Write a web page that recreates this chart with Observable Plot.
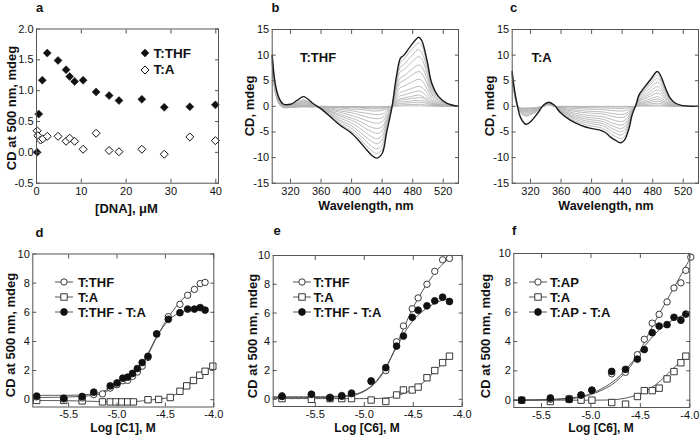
<!DOCTYPE html>
<html><head><meta charset="utf-8">
<script src="https://cdn.jsdelivr.net/npm/d3@7"></script>
<script src="https://cdn.jsdelivr.net/npm/@observablehq/plot@0.6"></script>
<style>
body{margin:0;background:#fff;}
#fig{position:relative;width:700px;height:435px;overflow:hidden;font-family:"Liberation Sans",Arial,sans-serif;color:#111;background:#fff;}
.t{position:absolute;white-space:nowrap;line-height:1;}
</style></head><body><div id="fig"></div>
<script>
// ---------- Panel a ----------
const aDNA   = [0.15, 0.5, 1.3, 2.4, 4.8, 6.6, 7.4, 8.5, 10.4, 13.3, 16.2, 18.4, 23.5, 28.5, 34.2, 39.9];
const aTHF   = [0.0, 0.62, 1.17, 1.61, 1.49, 1.34, 1.23, 1.15, 1.17, 0.98, 0.92, 0.84, 0.86, 0.73, 0.74, 0.77];
const aDNA_A = [0.15, 0.3, 0.9, 1.4, 2.4, 4.8, 6.6, 7.4, 8.5, 10.4, 13.3, 16.2, 18.4, 23.5, 28.5, 34.2, 39.9];
const aA     = [0.35, 0.27, 0.2, 0.22, 0.26, 0.26, 0.18, 0.23, 0.18, 0.05, 0.31, 0.03, 0.01, 0.05, -0.03, 0.25, 0.19];

// ---------- Panel b (T:THF spectra) ----------
const bWave  = [296, 300, 305, 310, 320, 329, 337, 350, 360, 372, 385, 398, 409, 418, 426, 433, 440, 446, 453, 459, 464, 468, 477, 488, 492, 499, 505, 514, 525, 540];
const bBlack = [10.0, 4.4, 1.6, 0.5, 0.4, 1.2, 1.9, 0.5, -0.5, -2.0, -3.7, -5.0, -6.6, -8.2, -9.5, -10.1, -9.2, -5.0, 0, 6.1, 9.4, 9.9, 11.7, 13.5, 12.8, 8.8, 4.5, 1.9, 0.6, 0];
const bGrey = [
 [9.7, 4.2, 1.2, 0.3, 0.3, 0.8, 1.3, 0.4, -0.5, -1.8, -3.4, -4.6, -6.0, -7.5, -8.6, -9.2, -8.4, -4.6, 0, 5.6, 8.6, 9.1, 10.8, 12.4, 11.8, 8.1, 4.1, 1.7, 0.6, 0],
 [9.6, 4.0, 1.2, 0.2, 0.2, 0.7, 1.1, 0.3, -0.4, -1.6, -3.0, -4.1, -5.4, -6.7, -7.8, -8.3, -7.5, -4.1, 0, 5.0, 7.7, 8.1, 9.6, 11.1, 10.5, 7.2, 3.7, 1.6, 0.5, 0],
 [9.4, 3.9, 1.1, 0.2, 0.2, 0.6, 1.0, 0.3, -0.4, -1.4, -2.7, -3.6, -4.8, -5.9, -6.8, -7.3, -6.6, -3.6, 0, 4.4, 6.8, 7.1, 8.4, 9.7, 9.2, 6.3, 3.2, 1.4, 0.4, 0],
 [9.3, 3.7, 1.0, 0.1, 0.1, 0.5, 0.8, 0.2, -0.3, -1.2, -2.3, -3.1, -4.1, -5.1, -5.9, -6.3, -5.7, -3.1, 0, 3.7, 5.6, 5.9, 7.0, 8.1, 7.7, 5.3, 2.7, 1.1, 0.4, 0],
 [9.2, 3.6, 0.9, 0.05, 0.05, 0.4, 0.65, 0.15, -0.3, -1.0, -1.9, -2.6, -3.4, -4.3, -4.9, -5.3, -4.8, -2.6, 0, 3.1, 4.7, 5.0, 5.9, 6.8, 6.4, 4.4, 2.3, 1.0, 0.3, 0],
 [9.0, 3.4, 0.8, 0, 0, 0.3, 0.5, 0.1, -0.2, -0.9, -1.6, -2.2, -2.8, -3.5, -4.1, -4.3, -4.0, -2.2, 0, 2.4, 3.7, 3.9, 4.6, 5.3, 5.0, 3.4, 1.8, 0.7, 0.2, 0],
 [8.9, 3.2, 0.7, -0.05, -0.05, 0.2, 0.35, 0.05, -0.2, -0.7, -1.2, -1.7, -2.2, -2.7, -3.1, -3.3, -3.0, -1.7, 0, 1.8, 2.7, 2.9, 3.4, 3.9, 3.7, 2.6, 1.3, 0.6, 0.2, 0],
 [8.8, 3.1, 0.7, -0.1, -0.1, 0.1, 0.2, 0, -0.1, -0.5, -0.9, -1.2, -1.6, -2.0, -2.3, -2.4, -2.2, -1.2, 0, 1.3, 2.1, 2.2, 2.6, 3.0, 2.8, 1.9, 1.0, 0.4, 0.1, 0],
 [8.7, 3.0, 0.6, -0.1, -0.1, 0.06, 0.14, 0, -0.1, -0.3, -0.6, -0.8, -1.1, -1.3, -1.5, -1.6, -1.5, -0.8, 0, 1.0, 1.5, 1.6, 1.9, 2.2, 2.0, 1.4, 0.7, 0.3, 0.1, 0],
 [8.7, 3.0, 0.6, -0.15, -0.15, 0.03, 0.1, -0.05, 0, -0.2, -0.3, -0.5, -0.6, -0.7, -0.9, -0.9, -0.8, -0.5, 0, 0.8, 1.2, 1.3, 1.5, 1.7, 1.7, 1.1, 0.6, 0.25, 0.1, 0],
 [8.6, 2.9, 0.6, -0.15, -0.15, 0, 0.03, -0.05, 0, -0.1, -0.2, -0.25, -0.3, -0.4, -0.5, -0.5, -0.5, -0.25, 0, 0.55, 0.85, 0.9, 1.05, 1.2, 1.15, 0.8, 0.4, 0.2, 0.05, 0],
 [8.6, 2.9, 0.55, -0.2, -0.2, -0.05, 0, -0.1, 0, -0.06, -0.1, -0.15, -0.2, -0.25, -0.3, -0.3, -0.3, -0.15, 0, 0.37, 0.56, 0.6, 0.7, 0.8, 0.77, 0.53, 0.27, 0.1, 0.04, 0],
 [8.5, 2.8, 0.5, -0.2, -0.2, -0.1, -0.05, -0.1, 0, -0.02, -0.04, -0.05, -0.07, -0.08, -0.1, -0.1, -0.1, -0.05, 0, 0.18, 0.28, 0.3, 0.35, 0.4, 0.38, 0.26, 0.14, 0.06, 0.02, 0],
 [8.5, 2.8, 0.5, -0.2, -0.2, -0.15, -0.1, -0.1, -0.05, -0.05, -0.05, -0.05, -0.05, -0.05, -0.05, -0.05, -0.05, -0.03, 0, 0.05, 0.08, 0.1, 0.1, 0.1, 0.1, 0.05, 0.03, 0.02, 0, 0]
];

// ---------- Panel c (T:A spectra) ----------
const cWave  = [296, 298, 303, 307, 314, 320, 329, 337, 344, 351, 359, 372, 386, 399, 410, 418, 425, 431, 438, 443, 449, 453, 458, 462, 468, 477, 486, 490, 497, 503, 510, 519, 540];
const cBlack = [6.8, 4.2, 0.0, -2.2, -3.5, -3.0, -1.4, 0.25, 0.8, 0.25, -1.2, -2.7, -3.7, -4.3, -4.6, -5.1, -6.0, -6.6, -7.1, -6.6, -4.3, -1.7, 0.25, 2.2, 3.5, 5.2, 6.8, 6.1, 3.5, 1.6, 0.6, 0.15, 0];
const cGrey = [
 [6.72, 3.92, -0.07, -1.29, -1.92, -1.65, -0.92, 0.09, 0.66, 0.18, -1.07, -2.4, -3.29, -3.83, -4.09, -4.54, -5.34, -5.87, -6.32, -5.87, -3.83, -1.51, 0.23, 1.98, 3.15, 4.68, 6.12, 5.49, 3.15, 1.44, 0.54, 0.14, 0],
 [6.65, 3.85, -0.04, -1.19, -1.76, -1.52, -0.85, 0.08, 0.62, 0.16, -0.95, -2.13, -2.92, -3.4, -3.63, -4.03, -4.74, -5.21, -5.61, -5.21, -3.4, -1.34, 0.2, 1.78, 2.84, 4.21, 5.51, 4.94, 2.84, 1.3, 0.49, 0.12, 0],
 [6.55, 3.75, -0.01, -1.06, -1.54, -1.34, -0.75, 0.07, 0.58, 0.14, -0.84, -1.89, -2.59, -3.01, -3.22, -3.57, -4.2, -4.62, -4.97, -4.62, -3.01, -1.19, 0.17, 1.52, 2.42, 3.59, 4.69, 4.21, 2.42, 1.1, 0.41, 0.1, 0],
 [6.46, 3.66, 0.03, -0.93, -1.33, -1.16, -0.66, 0.06, 0.53, 0.11, -0.73, -1.65, -2.26, -2.62, -2.81, -3.11, -3.66, -4.03, -4.33, -4.03, -2.62, -1.04, 0.14, 1.25, 2.0, 2.96, 3.88, 3.48, 2.0, 0.91, 0.34, 0.09, 0],
 [6.38, 3.58, 0.06, -0.82, -1.15, -1.0, -0.58, 0.05, 0.49, 0.09, -0.62, -1.4, -1.92, -2.24, -2.39, -2.65, -3.12, -3.43, -3.69, -3.43, -2.24, -0.88, 0.12, 1.03, 1.65, 2.44, 3.2, 2.87, 1.65, 0.75, 0.28, 0.07, 0],
 [6.3, 3.5, 0.09, -0.72, -0.98, -0.87, -0.5, 0.04, 0.45, 0.08, -0.5, -1.13, -1.55, -1.81, -1.93, -2.14, -2.52, -2.77, -2.98, -2.77, -1.81, -0.71, 0.1, 0.84, 1.33, 1.98, 2.58, 2.32, 1.33, 0.61, 0.23, 0.06, 0],
 [6.22, 3.42, 0.12, -0.61, -0.8, -0.72, -0.42, 0.03, 0.41, 0.06, -0.37, -0.84, -1.15, -1.33, -1.43, -1.58, -1.86, -2.05, -2.2, -2.05, -1.33, -0.53, 0.07, 0.62, 0.98, 1.46, 1.9, 1.71, 0.98, 0.45, 0.17, 0.04, 0],
 [6.17, 3.37, 0.14, -0.53, -0.68, -0.62, -0.37, 0.02, 0.38, 0.04, -0.27, -0.61, -0.83, -0.97, -1.04, -1.15, -1.35, -1.49, -1.6, -1.49, -0.97, -0.38, 0.05, 0.46, 0.74, 1.09, 1.43, 1.28, 0.74, 0.34, 0.13, 0.03, 0],
 [6.12, 3.32, 0.16, -0.47, -0.57, -0.53, -0.32, 0.02, 0.36, 0.03, -0.16, -0.35, -0.48, -0.56, -0.6, -0.66, -0.78, -0.86, -0.92, -0.86, -0.56, -0.22, 0.04, 0.33, 0.53, 0.78, 1.02, 0.92, 0.53, 0.24, 0.09, 0.02, 0],
 [6.07, 3.27, 0.17, -0.4, -0.46, -0.44, -0.27, 0.01, 0.34, 0.02, -0.07, -0.16, -0.22, -0.26, -0.28, -0.31, -0.36, -0.4, -0.43, -0.4, -0.26, -0.1, 0.02, 0.2, 0.32, 0.47, 0.61, 0.55, 0.32, 0.14, 0.05, 0.01, 0],
 [6.03, 3.23, 0.19, -0.35, -0.37, -0.36, -0.23, 0, 0.32, 0.01, -0.02, -0.05, -0.07, -0.09, -0.09, -0.1, -0.12, -0.13, -0.14, -0.13, -0.09, -0.03, 0.01, 0.09, 0.14, 0.21, 0.27, 0.24, 0.14, 0.06, 0.02, 0.01, 0],
 [6.0, 3.2, 0.2, -0.3, -0.3, -0.3, -0.2, 0, 0.3, 0, 0, 0, 0, 0, 0, 0, 0, 0, 0, 0, 0, 0, 0, 0.02, 0.04, 0.05, 0.07, 0.06, 0.04, 0.02, 0, 0, 0]
];

// ---------- Panel d (C1) ----------
const dX       = [-5.83, -5.55, -5.36, -5.24, -5.15, -5.07, -5.0, -4.94, -4.89, -4.84, -4.79, -4.74, -4.68, -4.59, -4.47, -4.35, -4.27, -4.2, -4.14, -4.09];
const dTHF     = [0.2, 0.05, 0.12, 0.35, 0.4, 0.8, 1.03, 1.3, 1.33, 1.6, 1.9, 2.3, 2.9, 4.5, 5.7, 6.55, 7.17, 7.57, 7.97, 8.05];
const dDiffX   = [-5.83, -5.55, -5.36, -5.24, -5.07, -5.0, -4.94, -4.89, -4.84, -4.79, -4.74, -4.68, -4.59, -4.47, -4.35, -4.27, -4.2, -4.14, -4.09];
const dDiff    = [0.25, 0.1, 0.22, 0.52, 0.95, 1.15, 1.48, 1.55, 1.8, 2.14, 2.55, 2.98, 4.52, 5.52, 5.97, 6.22, 6.22, 6.32, 6.15];
const dAX      = [-5.83, -5.55, -5.36, -5.15, -5.07, -5.01, -4.95, -4.89, -4.83, -4.68, -4.57, -4.45, -4.35, -4.28, -4.21, -4.145, -4.09, -4.01];
const dA       = [-0.05, -0.05, -0.08, -0.15, -0.15, -0.15, -0.15, -0.15, -0.15, 0.0, 0.02, 0.15, 0.58, 0.95, 1.32, 1.68, 1.95, 2.3];
const dFitX    = [-5.87, -5.6, -5.4, -5.2, -5.1, -5.0, -4.9, -4.8, -4.7, -4.6, -4.5, -4.4, -4.3, -4.2, -4.09];
const dFitTHF  = [0.15, 0.17, 0.22, 0.35, 0.6, 0.95, 1.35, 1.95, 2.85, 4.15, 5.35, 6.3, 7.05, 7.6, 8.05];
const dFitDiff = [0.3, 0.3, 0.32, 0.45, 0.7, 1.05, 1.5, 2.1, 2.95, 4.2, 5.2, 5.8, 6.1, 6.25, 6.2];
const dFitAX   = [-5.87, -5.5, -5.2, -5.0, -4.8, -4.7, -4.6, -4.5, -4.4, -4.3, -4.2, -4.1, -4.01];
const dFitA    = [-0.05, -0.07, -0.12, -0.15, -0.12, -0.05, 0.02, 0.1, 0.35, 0.8, 1.35, 1.9, 2.3];

// ---------- Panel e (C6, T:THF) ----------
const eX       = [-5.84, -5.54, -5.35, -5.23, -5.13, -4.93, -4.78, -4.67, -4.6, -4.51, -4.45, -4.36, -4.28, -4.2, -4.13];
const eTHF     = [0.25, 0.35, 0.15, 0.27, 0.45, 1.23, 2.0, 4.0, 5.1, 6.3, 7.05, 8.0, 8.9, 9.7, 9.8];
const eDiff    = [0.2, 0.35, 0.1, 0.22, 0.4, 1.28, 2.2, 3.7, 4.4, 5.7, 6.2, 6.5, 6.85, 7.1, 6.8];
const eA       = [0.05, 0.0, 0.05, 0.05, 0.05, -0.05, -0.15, 0.3, 0.65, 0.65, 0.85, 1.5, 2.0, 2.55, 3.0];
const eFitX    = [-5.93, -5.6, -5.3, -5.1, -5.0, -4.9, -4.8, -4.7, -4.6, -4.5, -4.4, -4.3, -4.2, -4.13];
const eFitTHF  = [0.12, 0.12, 0.15, 0.3, 0.55, 1.05, 1.9, 3.3, 4.9, 6.4, 7.6, 8.6, 9.4, 9.8];
const eFitDiff = [0.18, 0.18, 0.2, 0.35, 0.6, 1.1, 2.0, 3.25, 4.5, 5.5, 6.15, 6.6, 6.9, 7.0];
const eFitAX   = [-5.93, -5.5, -5.0, -4.8, -4.7, -4.6, -4.5, -4.4, -4.3, -4.2, -4.13];
const eFitA    = [0.05, 0.05, 0.05, 0.08, 0.18, 0.4, 0.72, 1.15, 1.8, 2.5, 3.0];

// ---------- Panel f (C6, T:AP) ----------
const fX       = [-5.70, -5.41, -5.22, -5.1, -4.99, -4.79, -4.65, -4.53, -4.46, -4.38, -4.31, -4.23, -4.16, -4.09, -4.04];
const fAPX     = [-5.70, -5.41, -5.22, -5.1, -4.99, -4.79, -4.65, -4.53, -4.46, -4.38, -4.31, -4.23, -4.16, -4.09, -4.04, -3.99];
const fAP      = [0.0, 0.06, 0.12, 0.35, 0.68, 1.8, 1.9, 3.1, 4.15, 5.25, 5.85, 6.7, 7.65, 8.0, 8.85, 9.75];
const fDiff    = [0.0, 0.15, 0.05, 0.35, 0.68, 1.96, 2.1, 2.8, 3.45, 4.6, 5.05, 5.15, 5.65, 5.45, 5.87];
const fA       = [0.0, -0.09, 0.07, 0.0, 0.0, -0.16, -0.27, 0.25, 0.65, 0.65, 0.82, 1.45, 1.95, 2.55, 3.0];
const fFitX    = [-5.78, -5.5, -5.3, -5.1, -5.0, -4.9, -4.8, -4.7, -4.6, -4.5, -4.4, -4.3, -4.2, -4.1, -3.99];
const fFitAP   = [0.0, 0.02, 0.06, 0.2, 0.38, 0.65, 1.0, 1.55, 2.3, 3.4, 4.75, 6.0, 7.2, 8.4, 9.75];
const fFitDX   = [-5.78, -5.5, -5.3, -5.1, -5.0, -4.9, -4.8, -4.7, -4.6, -4.5, -4.4, -4.3, -4.2, -4.1, -4.04];
const fFitDiff = [0.0, 0.03, 0.1, 0.25, 0.45, 0.75, 1.15, 1.7, 2.45, 3.3, 4.15, 4.85, 5.35, 5.7, 5.85];
const fFitAX   = [-5.78, -5.2, -5.0, -4.8, -4.7, -4.6, -4.5, -4.4, -4.3, -4.2, -4.1, -4.04];
const fFitA    = [0.0, 0.0, 0.0, 0.02, 0.08, 0.22, 0.45, 0.8, 1.3, 1.95, 2.6, 3.0];

// ---------- ticks ----------
const aXTicks = [0, 10, 20, 30, 40];
const aYTicks = [-0.5, 0, 0.5, 1, 1.5, 2];
const sXTicks = [320, 360, 400, 440, 480, 520];
const sYTicks = [-15, -10, -5, 0, 5, 10, 15];
const lXTicks = [-5.5, -5.0, -4.5, -4.0];
const lYTicks = [0, 2, 4, 6, 8, 10];

const FONT = '"Liberation Sans", Arial, sans-serif';
const fig = document.getElementById("fig");
const f1 = d => d.toFixed(1);
const f0 = d => String(d);
const pts = (xs, ys) => xs.map((x, i) => ({x, y: ys[i]}));

function panel({left, top, width, height, ml, mr, mt, mb, xd, yd, xt, yt, xf, yf, marks}) {
  const p = Plot.plot({
    width, height, marginLeft: ml, marginRight: mr, marginTop: mt, marginBottom: mb,
    x: {domain: xd}, y: {domain: yd},
    style: {fontFamily: FONT, fontSize: "11px", color: "#111", background: "transparent", overflow: "visible"},
    marks: [
      ...marks,
      Plot.frame({stroke: "#555", strokeWidth: 1}),
      Plot.axisX(xt, {anchor: "bottom", tickSize: -4, tickPadding: 7.5, tickFormat: xf, label: null, stroke: "#555", fill: "#111"}),
      Plot.axisX(xt, {anchor: "top", tickSize: -4, fill: "none", stroke: "#555", label: null}),
      Plot.axisY(yt, {anchor: "left", tickSize: -4, tickPadding: 7, tickFormat: yf, label: null, stroke: "#555", fill: "#111"}),
      Plot.axisY(yt, {anchor: "right", tickSize: -4, fill: "none", stroke: "#555", label: null})
    ]
  });
  p.style.position = "absolute";
  p.style.left = left + "px";
  p.style.top = top + "px";
  fig.appendChild(p);
}

function spectra(wave, grey, black) {
  const rows = [];
  grey.forEach((c, k) => wave.forEach((w, i) => rows.push({w, v: c[i], k})));
  return [
    Plot.line(rows, {x: "w", y: "v", z: "k", stroke: "#b3b3b3", strokeWidth: 0.9, curve: "catmull-rom"}),
    Plot.line(wave.map((w, i) => ({w, v: black[i]})), {x: "w", y: "v", stroke: "#1a1a1a", strokeWidth: 1.4, curve: "catmull-rom"})
  ];
}

const lineOpt = {x: "x", y: "y", stroke: "#444", strokeWidth: 0.9, curve: "catmull-rom"};
const sqOpt = {x: "x", y: "y", symbol: "square", r: 3.6, fill: "white", stroke: "#222", strokeWidth: 0.9};
const ocOpt = {x: "x", y: "y", r: 3.2, fill: "white", stroke: "#222", strokeWidth: 0.9};
const fcOpt = {x: "x", y: "y", r: 3.4, fill: "#111", stroke: "#111", strokeWidth: 0.8};

// a
panel({left: 0, top: 0, width: 235, height: 215, ml: 36, mr: 17, mt: 28.5, mb: 32.3,
  xd: [0, 40.6], yd: [-0.5, 2.0], xt: aXTicks, yt: aYTicks, xf: f0, yf: f1,
  marks: [
    Plot.dot(pts(aDNA_A, aA), {x: "x", y: "y", symbol: "diamond2", r: 3.6, fill: "white", stroke: "#111", strokeWidth: 1}),
    Plot.dot(pts(aDNA, aTHF), {x: "x", y: "y", symbol: "diamond2", r: 3.6, fill: "#111", stroke: "#111", strokeWidth: 0.5})
  ]});
// b
panel({left: 235, top: 0, width: 235, height: 215, ml: 36.7, mr: 12, mt: 29, mb: 32.3,
  xd: [296, 540], yd: [-15, 15], xt: sXTicks, yt: sYTicks, xf: f0, yf: f0,
  marks: spectra(bWave, bGrey, bBlack)});
// c
panel({left: 470, top: 0, width: 230, height: 215, ml: 41.7, mr: 2, mt: 29, mb: 32.3,
  xd: [296, 540], yd: [-15, 15], xt: sXTicks, yt: sYTicks, xf: f0, yf: f0,
  marks: spectra(cWave, cGrey, cBlack)});
// d
panel({left: 0, top: 218, width: 235, height: 217, ml: 32.3, mr: 21.7, mt: 35.5, mb: 28.5,
  xd: [-5.87, -4.0], yd: [-0.5, 10], xt: lXTicks, yt: lYTicks, xf: f1, yf: f0,
  marks: [
    Plot.line(pts(dFitAX, dFitA), lineOpt),
    Plot.line(pts(dFitX, dFitTHF), lineOpt),
    Plot.line(pts(dFitX, dFitDiff), lineOpt),
    Plot.dot(pts(dAX, dA), sqOpt),
    Plot.dot(pts(dX, dTHF), ocOpt),
    Plot.dot(pts(dDiffX, dDiff), fcOpt)
  ]});
// e
panel({left: 235, top: 218, width: 235, height: 217, ml: 37.7, mr: 8.3, mt: 37, mb: 29,
  xd: [-5.93, -4.0], yd: [-0.5, 10], xt: lXTicks, yt: lYTicks, xf: f1, yf: f0,
  marks: [
    Plot.line(pts(eFitAX, eFitA), lineOpt),
    Plot.line(pts(eFitX, eFitTHF), lineOpt),
    Plot.line(pts(eFitX, eFitDiff), lineOpt),
    Plot.dot(pts(eX, eA), sqOpt),
    Plot.dot(pts(eX, eTHF), ocOpt),
    Plot.dot(pts(eX, eDiff), fcOpt)
  ]});
// f
panel({left: 470, top: 218, width: 230, height: 217, ml: 43.3, mr: 10.7, mt: 35, mb: 28,
  xd: [-5.78, -4.0], yd: [-0.5, 10], xt: lXTicks, yt: lYTicks, xf: f1, yf: f0,
  marks: [
    Plot.line(pts(fFitAX, fFitA), lineOpt),
    Plot.line(pts(fFitX, fFitAP), lineOpt),
    Plot.line(pts(fFitDX, fFitDiff), lineOpt),
    Plot.dot(pts(fX, fA), sqOpt),
    Plot.dot(pts(fAPX, fAP), ocOpt),
    Plot.dot(pts(fX, fDiff), fcOpt)
  ]});

// ---------- text overlays ----------
function txt(s, x, y, {anchor = "start", rot = false, size = 13, weight = "bold"} = {}) {
  const el = document.createElement("div");
  el.className = "t";
  el.textContent = s;
  const tx = anchor === "start" ? "0" : anchor === "middle" ? "-50%" : "-100%";
  el.style.left = x + "px";
  el.style.top = y + "px";
  el.style.fontSize = size + "px";
  el.style.fontWeight = weight;
  el.style.transform = rot ? "translate(-50%,-50%) rotate(-90deg)" : `translate(${tx},-50%)`;
  fig.appendChild(el);
}
// panel letters
txt("a", 36, 7); txt("b", 271.5, 7); txt("c", 510, 7);
txt("d", 35.5, 231.5); txt("e", 273.5, 230); txt("f", 512, 230);
// y titles
txt("CD at 500 nm, mdeg", 11, 108, {rot: true});
txt("CD, mdeg", 249, 106, {rot: true});
txt("CD, mdeg", 489, 106, {rot: true});
txt("CD at 500 nm, mdeg", 10, 335, {rot: true});
txt("CD at 500 nm, mdeg", 252, 336, {rot: true});
txt("CD at 500 nm, mdeg", 485, 336, {rot: true});
// x titles
txt("[DNA], \u03BCM", 126.5, 207.5, {anchor: "middle"});
txt("Wavelength, nm", 366, 206, {anchor: "middle", size: 12.5});
txt("Wavelength, nm", 606, 206, {anchor: "middle", size: 12.5});
txt("Log [C1], M", 123, 427.5, {anchor: "middle", size: 12});
txt("Log [C6], M", 367, 427.5, {anchor: "middle", size: 12});
txt("Log [C6], M", 601, 427.5, {anchor: "middle", size: 12});
// annotations
txt("T:THF", 300, 57);
txt("T:A", 531.5, 57);

// legends
const NS = "http://www.w3.org/2000/svg";
function glyph(x, y, w, kind, withLine) {
  const s = document.createElementNS(NS, "svg");
  s.setAttribute("width", w); s.setAttribute("height", 12);
  s.style.cssText = `position:absolute;left:${x - w / 2}px;top:${y - 6}px;overflow:visible`;
  let h = "";
  if (withLine) h += `<line x1="0" y1="6" x2="${w}" y2="6" stroke="#444" stroke-width="0.9"/>`;
  const c = w / 2;
  if (kind === "oc") h += `<circle cx="${c}" cy="6" r="3.2" fill="white" stroke="#222" stroke-width="0.9"/>`;
  if (kind === "fc") h += `<circle cx="${c}" cy="6" r="3.4" fill="#111" stroke="#111" stroke-width="0.8"/>`;
  if (kind === "sq") h += `<rect x="${c - 3.2}" y="2.8" width="6.4" height="6.4" fill="white" stroke="#222" stroke-width="0.9"/>`;
  if (kind === "fd") h += `<polygon points="${c},2 ${c + 4},6 ${c},10 ${c - 4},6" fill="#111" stroke="#111" stroke-width="0.5"/>`;
  if (kind === "od") h += `<polygon points="${c},2 ${c + 4},6 ${c},10 ${c - 4},6" fill="white" stroke="#111" stroke-width="1"/>`;
  s.innerHTML = h;
  fig.appendChild(s);
}
// a legend
glyph(145, 53.3, 10, "fd", false); txt("T:THF", 153.5, 53.5, {size: 13.5});
glyph(145, 70, 10, "od", false);   txt("T:A", 153.5, 70.2, {size: 13.5});
// lower legends
const legRows = [281.7, 296.7, 311.7];
function lowLegend(cx, tx, labels) {
  const kinds = ["oc", "sq", "fc"];
  labels.forEach((l, i) => {
    glyph(cx, legRows[i], 18, kinds[i], true);
    txt(l, tx, legRows[i] + 0.3);
  });
}
lowLegend(63.5, 78, ["T:THF", "T:A", "T:THF - T:A"]);
lowLegend(301.5, 313.5, ["T:THF", "T:A", "T:THF - T:A"]);
lowLegend(537.8, 550, ["T:AP", "T:A", "T:AP - T:A"]);
</script></body></html>
